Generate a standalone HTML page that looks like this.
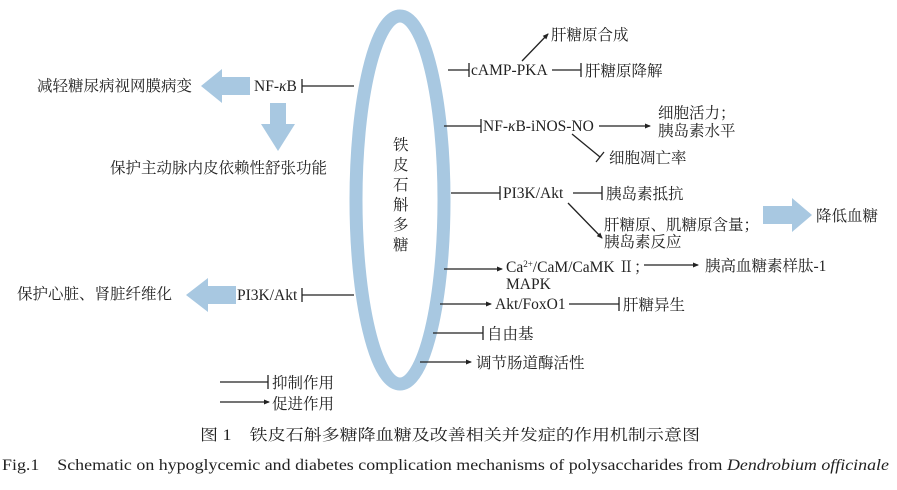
<!DOCTYPE html>
<html><head><meta charset="utf-8"><style>
html,body{margin:0;padding:0;background:#fff;}
svg{display:block;}
text{font-family:"Liberation Serif","Noto Serif CJK SC","Noto Sans CJK SC",serif;fill:#222;font-size:15.5px;}
</style></head><body>
<svg width="897" height="490" viewBox="0 0 897 490" xmlns="http://www.w3.org/2000/svg">
<defs>
<marker id="a" markerWidth="6" markerHeight="6" refX="5" refY="3" orient="auto" markerUnits="userSpaceOnUse"><path d="M0,0.5 L6,3 L0,5.5z" fill="#222"/></marker>
</defs>
<ellipse cx="400" cy="200" rx="44" ry="184" fill="none" stroke="#a8c8e1" stroke-width="13"/>
<g font-size="15">
<text x="393" y="150">铁</text><text x="393" y="170">皮</text><text x="393" y="190">石</text><text x="393" y="210">斛</text><text x="393" y="230">多</text><text x="393" y="250">糖</text>
</g>
<g stroke="#222" stroke-width="1.3" fill="none">
<line x1="448" y1="70" x2="469" y2="70"/><line x1="469" y1="63" x2="469" y2="77"/>
<line x1="552" y1="70" x2="581" y2="70"/><line x1="581" y1="63" x2="581" y2="77"/>
<line x1="522" y1="61" x2="548" y2="34" marker-end="url(#a)"/>
<line x1="444" y1="126" x2="481" y2="126"/><line x1="481" y1="119" x2="481" y2="133"/>
<line x1="599" y1="126" x2="650" y2="126" marker-end="url(#a)"/>
<line x1="572" y1="134" x2="600" y2="157"/><line x1="596" y1="162" x2="604" y2="152"/>
<line x1="451" y1="193" x2="500" y2="193"/><line x1="500" y1="186" x2="500" y2="200"/>
<line x1="573" y1="193" x2="602" y2="193"/><line x1="602" y1="186" x2="602" y2="200"/>
<line x1="568" y1="203" x2="602" y2="238" marker-end="url(#a)"/>
<line x1="444" y1="269" x2="502" y2="269" marker-end="url(#a)"/>
<line x1="644" y1="265" x2="698" y2="265" marker-end="url(#a)"/>
<line x1="440" y1="304" x2="491" y2="304" marker-end="url(#a)"/>
<line x1="569" y1="304" x2="619" y2="304"/><line x1="619" y1="297" x2="619" y2="311"/>
<line x1="433" y1="333" x2="483" y2="333"/><line x1="483" y1="326" x2="483" y2="340"/>
<line x1="420" y1="362" x2="471" y2="362" marker-end="url(#a)"/>
<line x1="302" y1="86" x2="354" y2="86"/><line x1="302" y1="79" x2="302" y2="93"/>
<line x1="302" y1="295" x2="354" y2="295"/><line x1="302" y1="288" x2="302" y2="302"/>
<line x1="220" y1="382" x2="268" y2="382"/><line x1="268" y1="375" x2="268" y2="389"/>
<line x1="220" y1="402" x2="269" y2="402" marker-end="url(#a)"/>
</g>
<g fill="#a8c8e1">
<path d="M250,77 L222,77 L222,69 L201,86 L222,103 L222,95 L250,95z"/>
<path d="M270,103 L286,103 L286,124 L295,124 L278,151 L261,124 L270,124z"/>
<path d="M236,286 L208,286 L208,278 L186,295 L208,312 L208,304 L236,304z"/>
<path d="M763,206 L792,206 L792,198 L812,215 L792,232 L792,224 L763,224z"/>
</g>
<text x="471" y="75">cAMP-PKA</text>
<text x="585" y="76">肝糖原降解</text>
<text x="551" y="40">肝糖原合成</text>
<text x="483" y="131">NF-<tspan font-style="italic">κ</tspan>B-iNOS-NO</text>
<text x="658" y="118">细胞活力；</text>
<text x="658" y="136">胰岛素水平</text>
<text x="609" y="163">细胞凋亡率</text>
<text x="503" y="198">PI3K/Akt</text>
<text x="606" y="199">胰岛素抵抗</text>
<text x="604" y="230">肝糖原、肌糖原含量；</text>
<text x="604" y="247">胰岛素反应</text>
<text x="816" y="221">降低血糖</text>
<text x="506" y="272">Ca<tspan font-size="9" dy="-5">2+</tspan><tspan dy="5">/CaM/CaMK Ⅱ；</tspan></text>
<text x="506" y="289">MAPK</text>
<text x="705" y="271">胰高血糖素样肽-1</text>
<text x="495" y="309">Akt/FoxO1</text>
<text x="623" y="310">肝糖异生</text>
<text x="487" y="339">自由基</text>
<text x="476" y="368">调节肠道酶活性</text>
<text x="254" y="91">NF-<tspan font-style="italic">κ</tspan>B</text>
<text x="37" y="91">减轻糖尿病视网膜病变</text>
<text x="110" y="173">保护主动脉内皮依赖性舒张功能</text>
<text x="237" y="300">PI3K/Akt</text>
<text x="17" y="299">保护心脏、肾脏纤维化</text>
<text x="272" y="388">抑制作用</text>
<text x="272" y="409">促进作用</text>
<text x="200" y="440" font-size="15" textLength="500" lengthAdjust="spacingAndGlyphs">图 1　铁皮石斛多糖降血糖及改善相关并发症的作用机制示意图</text>
<text x="2" y="470" font-size="15" textLength="887" lengthAdjust="spacingAndGlyphs">Fig.1　Schematic on hypoglycemic and diabetes complication mechanisms of polysaccharides from <tspan font-style="italic">Dendrobium officinale</tspan></text>
</svg>
</body></html>
